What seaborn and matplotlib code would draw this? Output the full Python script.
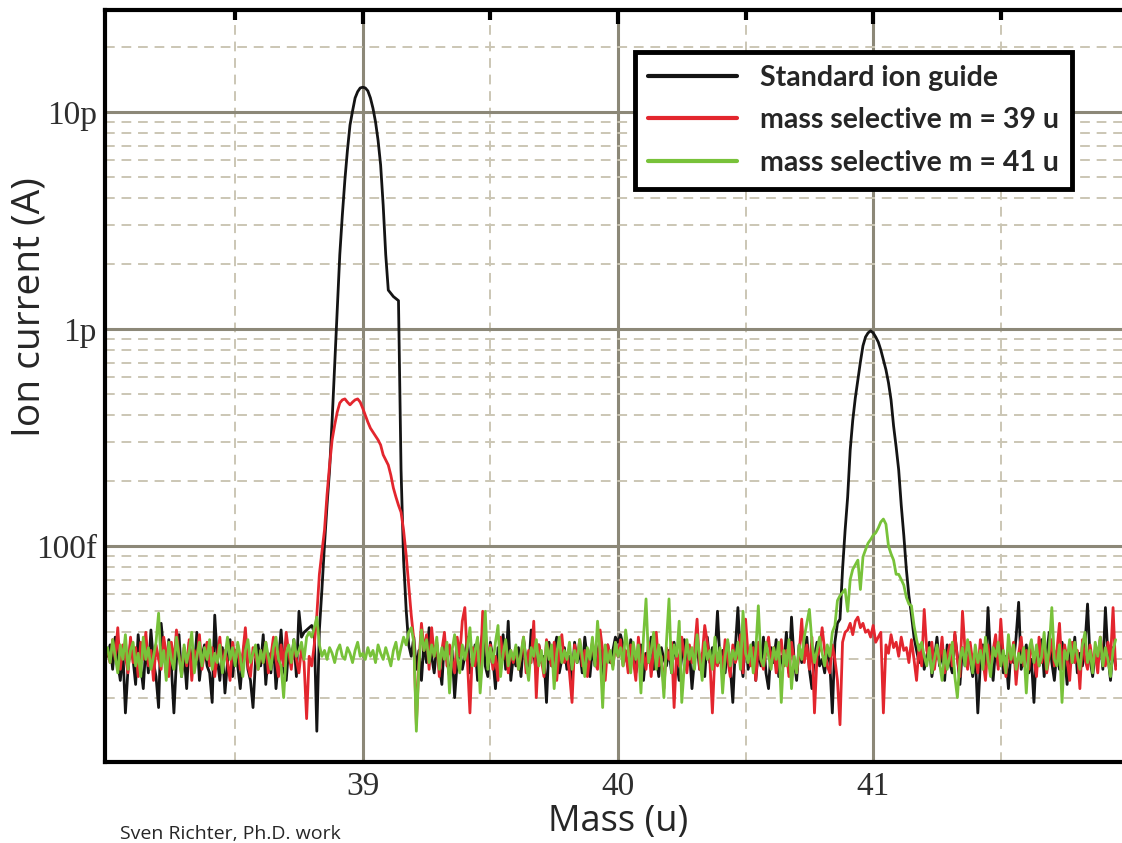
import numpy as np
import pandas as pd
import matplotlib
matplotlib.use("Agg")
import matplotlib.pyplot as plt
import matplotlib.ticker as mticker
from matplotlib.lines import Line2D
import seaborn as sns

# mass axis: one sample every 0.01 u starting at 38.00 u
MASS_START = 38.0
MASS_STEP = 0.01

# ion current in fA
standard_guide = [
    31, 35, 27, 38, 29, 24, 33, 17, 27, 36, 30, 23, 39, 28, 22, 35, 26, 41, 29, 25,
    18, 44, 33, 26, 37, 28, 17, 30, 39, 25, 32, 22, 36, 29, 27, 40, 24, 31, 35, 28,
    26, 19, 48, 30, 24, 34, 21, 29, 37, 25, 33, 28, 22, 31, 38, 27, 24, 18, 30, 35,
    28, 39, 23, 32, 26, 36, 22, 30, 41, 27, 24, 34, 29, 37, 25, 50, 38, 40, 41, 42,
    43, 40, 14, 41, 63, 101, 154, 224, 380, 680, 1220, 2200, 3350, 4870, 6670, 8700, 10100, 11600, 12400, 12900,
    13000, 12900, 12500, 11600, 10400, 9000, 7400, 5700, 3720, 2200, 1510, 1460, 1410, 1380, 1350, 224, 86, 51, 35, 31,
    38, 27, 33, 24, 36, 29, 42, 31, 26, 35, 28, 23, 37, 30, 25, 33, 20, 29, 34, 27,
    31, 38, 26, 29, 35, 24, 33, 40, 28, 25, 36, 30, 22, 34, 29, 39, 27, 45, 24, 31,
    28, 34, 25, 37, 30, 27, 41, 32, 26, 35, 29, 31, 19, 36, 28, 33, 38, 26, 30, 34,
    27, 31, 24, 36, 29, 33, 26, 38, 30, 25, 34, 28, 32, 37, 23, 30, 35, 29, 33, 38,
    36, 39, 35, 31, 28, 37, 33, 26, 30, 35, 24, 32, 29, 38, 27, 31, 25, 34, 30, 28,
    33, 26, 36, 29, 24, 31, 37, 28, 33, 22, 30, 35, 27, 32, 25, 38, 29, 34, 31, 50,
    29, 33, 26, 36, 28, 19, 34, 52, 30, 25, 39, 27, 31, 36, 24, 33, 28, 38, 26, 22,
    34, 29, 37, 25, 31, 28, 40, 26, 47, 30, 24, 35, 29, 32, 38, 27, 22, 31, 36, 28,
    30, 26, 33, 29, 17, 36, 44, 46, 78, 118, 168, 277, 380, 481, 582, 705, 836, 918, 959, 980,
    959, 918, 870, 800, 720, 649, 565, 471, 357, 286, 224, 154, 112, 78, 59, 48, 38, 33, 29, 34,
    27, 31, 36, 25, 30, 38, 28, 33, 24, 35, 29, 26, 39, 31, 23, 34, 28, 36, 30, 25,
    32, 17, 29, 35, 27, 52, 30, 24, 34, 28, 37, 26, 31, 22, 33, 29, 38, 55, 27, 31,
    35, 26, 30, 19, 34, 28, 37, 25, 32, 40, 29, 24, 33, 27, 36, 31, 23, 34, 29, 38,
    26, 32, 28, 35, 54, 30, 25, 33, 29, 37, 27, 52, 31, 24, 34, 28,
]
selective_39 = [
    33, 29, 37, 30, 42, 27, 35, 31, 26, 38, 29, 34, 25, 36, 30, 40, 28, 33, 24, 35,
    30, 27, 38, 32, 25, 36, 29, 41, 31, 26, 34, 28, 37, 24, 33, 30, 39, 27, 32, 36,
    28, 34, 25, 31, 38, 27, 33, 29, 24, 36, 30, 35, 27, 32, 42, 28, 25, 34, 31, 27,
    33, 29, 36, 26, 31, 38, 30, 25, 35, 28, 40, 32, 27, 36, 30, 26, 34, 29, 16, 31,
    28, 35, 48, 74, 94, 118, 172, 236, 308, 361, 414, 456, 471, 476, 460, 447, 460, 471, 476, 460,
    431, 401, 372, 349, 335, 321, 308, 292, 263, 249, 236, 212, 185, 168, 154, 143, 118, 91, 66, 48,
    37, 15, 29, 44, 33, 39, 27, 42, 31, 36, 25, 33, 40, 28, 35, 30, 26, 38, 31, 45,
    52, 30, 17, 34, 28, 37, 25, 50, 41, 29, 35, 27, 31, 24, 38, 30, 36, 26, 33, 29,
    34, 27, 31, 38, 26, 33, 29, 45, 20, 35, 30, 25, 37, 31, 28, 36, 24, 33, 39, 29,
    32, 26, 19, 35, 30, 37, 28, 33, 25, 31, 36, 29, 27, 41, 33, 24, 35, 30, 28, 34,
    31, 37, 28, 33, 26, 35, 30, 24, 38, 29, 32, 27, 36, 25, 33, 40, 28, 31, 22, 34,
    30, 36, 18, 33, 28, 38, 31, 26, 35, 29, 33, 46, 27, 31, 43, 36, 30, 17, 32, 28,
    33, 27, 37, 30, 25, 35, 29, 32, 39, 26, 46, 31, 28, 34, 24, 36, 30, 27, 33, 38,
    29, 34, 26, 31, 37, 28, 33, 25, 36, 30, 26, 32, 46, 29, 35, 27, 38, 17, 31, 33,
    42, 33, 28, 26, 35, 30, 24, 15, 36, 40, 41, 44, 39, 45, 47, 42, 44, 40, 41, 38,
    43, 36, 38, 40, 17, 35, 32, 39, 34, 36, 31, 38, 33, 34, 29, 37, 30, 24, 35, 28,
    51, 33, 30, 36, 27, 34, 29, 38, 26, 31, 35, 28, 40, 30, 25, 50, 33, 27, 36, 29,
    32, 26, 37, 30, 24, 35, 28, 33, 39, 27, 46, 31, 25, 34, 29, 36, 23, 32, 38, 28,
    33, 27, 36, 30, 25, 38, 29, 34, 26, 31, 37, 28, 33, 44, 27, 35, 30, 24, 36, 29,
    33, 22, 37, 30, 27, 35, 29, 32, 26, 38, 31, 28, 36, 30, 52, 27,
]
selective_41 = [
    34, 29, 37, 31, 26, 35, 30, 39, 27, 33, 36, 28, 32, 25, 38, 30, 34, 27, 31, 36,
    49, 28, 33, 24, 36, 30, 27, 38, 31, 25, 35, 29, 33, 40, 26, 31, 36, 28, 34, 30,
    37, 27, 32, 29, 35, 26, 31, 38, 30, 34, 28, 36, 31, 25, 33, 37, 29, 32, 35, 27,
    33, 29, 36, 31, 27, 34, 38, 30, 28, 20, 32, 35, 29, 37, 31, 33, 36, 30, 38, 40,
    38, 42, 47, 35, 31, 33, 30, 34, 32, 29, 33, 35, 31, 30, 34, 32, 29, 33, 36, 31,
    32, 30, 34, 31, 33, 29, 35, 32, 30, 34, 31, 28, 33, 36, 30, 34, 38, 35, 40, 42,
    36, 14, 28, 41, 33, 37, 29, 35, 31, 38, 27, 34, 30, 36, 21, 33, 39, 31, 26, 35,
    30, 34, 42, 28, 33, 38, 21, 31, 50, 27, 34, 29, 36, 43, 25, 32, 37, 28, 33, 30,
    35, 27, 32, 38, 29, 24, 34, 31, 37, 28, 33, 26, 36, 30, 35, 22, 32, 38, 29, 33,
    30, 36, 27, 33, 29, 37, 31, 25, 34, 30, 38, 28, 45, 32, 18, 35, 29, 33, 27, 36,
    31, 34, 28, 41, 33, 26, 36, 30, 35, 21, 38, 57, 29, 33, 40, 27, 35, 30, 20, 36,
    57, 26, 35, 31, 45, 19, 28, 37, 30, 34, 27, 39, 31, 24, 36, 30, 33, 27, 38, 29,
    34, 21, 31, 37, 28, 33, 30, 36, 27, 50, 32, 29, 35, 26, 33, 53, 30, 28, 36, 31,
    27, 34, 30, 36, 19, 33, 28, 37, 22, 31, 26, 35, 30, 38, 44, 51, 36, 29, 33, 38,
    32, 28, 35, 31, 40, 43, 56, 59, 61, 63, 50, 70, 78, 82, 86, 63, 89, 96, 103, 107,
    112, 115, 121, 129, 133, 126, 100, 92, 86, 74, 74, 70, 66, 58, 54, 53, 43, 37, 33, 36,
    31, 28, 34, 26, 30, 35, 29, 24, 33, 27, 31, 36, 25, 20, 30, 34, 28, 37, 31, 26,
    35, 29, 33, 27, 38, 30, 25, 34, 31, 36, 28, 33, 26, 39, 30, 35, 27, 32, 29, 34,
    21, 33, 37, 29, 35, 28, 31, 40, 27, 34, 52, 30, 28, 35, 19, 33, 30, 37, 29, 36,
    31, 27, 35, 40, 29, 33, 26, 36, 31, 38, 28, 34, 30, 25, 33, 37,
]

series_names = ["Standard ion guide", "mass selective m = 39 u", "mass selective m = 41 u"]
series_colors = ["#141414", "#e3262e", "#78c23a"]

x_ticks = [39, 40, 41]
x_minor = [38.5, 39.5, 40.5, 41.5]
y_ticks = [1e-13, 1e-12, 1e-11]
y_tick_labels = ["100f", "1p", "10p"]

# long table for seaborn
frames = []
for name, vals in zip(series_names, [standard_guide, selective_39, selective_41]):
    vals = np.array(vals, dtype=float)
    mass = MASS_START + MASS_STEP * np.arange(len(vals))
    frames.append(pd.DataFrame({"mass": mass, "current": vals * 1e-15, "series": name}))
df = pd.concat(frames, ignore_index=True)

sns.set_style("white")
plt.rcParams["font.family"] = ["Open Sans", "DejaVu Sans"]

fig = plt.figure(figsize=(11.22, 8.43), dpi=100)
ax = fig.add_axes([105 / 1122, 1 - 762 / 843, 1 - 105 / 1122, 752 / 843])

sns.lineplot(data=df, x="mass", y="current", hue="series", hue_order=series_names,
             palette=series_colors, estimator=None, sort=False, lw=2.0, ax=ax,
             legend=False)

ax.set_yscale("log")
ax.set_xlim(37.99, 41.975)
ax.set_ylim(10.1e-15, 29.5e-12)

ax.xaxis.set_major_locator(mticker.FixedLocator(x_ticks))
ax.xaxis.set_minor_locator(mticker.FixedLocator(x_minor))
ax.yaxis.set_major_locator(mticker.FixedLocator(y_ticks))
ax.yaxis.set_major_formatter(mticker.FixedFormatter(y_tick_labels))
ax.yaxis.set_minor_locator(mticker.LogLocator(base=10, subs=np.arange(2, 10)))
ax.yaxis.set_minor_formatter(mticker.NullFormatter())

ax.grid(which="major", color="#8c8878", lw=2.2, ls="-")
ax.grid(which="minor", color="#cbc6b4", lw=1.4, ls=(0, (5, 3.5)))
ax.set_axisbelow(True)

for side in ["top", "left", "bottom"]:
    ax.spines[side].set_visible(True)
    ax.spines[side].set_color("black")
    ax.spines[side].set_linewidth(3)
ax.spines["right"].set_visible(False)

ax.tick_params(axis="both", which="both", direction="in", color="black",
               top=True, right=False, labelcolor="#2e2e2e")
ax.tick_params(axis="x", which="major", length=10, width=3, pad=7)
ax.tick_params(axis="x", which="minor", length=7, width=3)
ax.tick_params(axis="y", which="major", length=13, width=3, pad=6)
ax.tick_params(axis="y", which="minor", length=9, width=3)
for lab in ax.get_xticklabels() + ax.get_yticklabels():
    lab.set_fontfamily("Liberation Serif")
    lab.set_fontsize(24)

ax.set_xlabel("")
ax.set_ylabel("")
fig.text(30 / 1122, 1 - 307 / 843, "Ion current (A)", rotation=90,
         ha="center", va="center", fontsize=28)
fig.text(618 / 1122, 1 - 822 / 843, "Mass (u)", ha="center", va="center", fontsize=26)
fig.text(120 / 1122, 1 - 839 / 843, "Sven Richter, Ph.D. work", fontsize=14, va="baseline")

handles = [Line2D([], [], color=c, lw=3) for c in series_colors]
leg = ax.legend(handles, series_names, loc="upper left", bbox_to_anchor=(0.521, 0.944),
                frameon=True, fancybox=False, edgecolor="black", framealpha=1,
                prop={"family": "Lato", "weight": "bold", "size": 20.5},
                handlelength=3.15, handletextpad=0.8, labelspacing=0.58,
                borderpad=0.45, borderaxespad=0)
leg.get_frame().set_linewidth(3.5)

fig.savefig("out.png", dpi=100)
